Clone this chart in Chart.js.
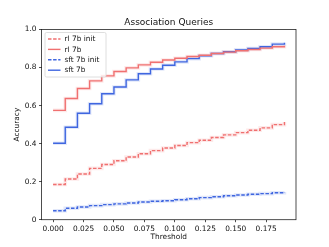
<!DOCTYPE html>
<html>
<head>
<meta charset="utf-8">
<script src="https://cdn.jsdelivr.net/npm/chart.js@4.4.4/dist/chart.umd.min.js"></script>
<style>
  html, body { margin: 0; padding: 0; background: #fff; }
  canvas { display: block; }
</style>
</head>
<body>
<canvas id="chart" width="329" height="247"></canvas>
<script>
// thresholds on the x axis
const thresholds = [0.00, 0.01, 0.02, 0.03, 0.04, 0.05, 0.06, 0.07, 0.08, 0.09,
                    0.10, 0.11, 0.12, 0.13, 0.14, 0.15, 0.16, 0.17, 0.18, 0.19];

const rlInit = [0.185, 0.214, 0.240, 0.270, 0.290, 0.310, 0.330, 0.347, 0.363, 0.377,
                0.390, 0.405, 0.418, 0.432, 0.446, 0.458, 0.470, 0.483, 0.500, 0.514];
const rl = [0.575, 0.637, 0.690, 0.730, 0.756, 0.779, 0.798, 0.814, 0.828, 0.840,
            0.849, 0.858, 0.865, 0.874, 0.881, 0.888, 0.895, 0.902, 0.909, 0.914];
const sftInit = [0.047, 0.060, 0.067, 0.074, 0.079, 0.083, 0.088, 0.093, 0.097, 0.100,
                 0.105, 0.110, 0.116, 0.121, 0.126, 0.130, 0.134, 0.137, 0.142, 0.146];
const sft = [0.402, 0.486, 0.560, 0.610, 0.662, 0.698, 0.735, 0.767, 0.792, 0.812,
             0.830, 0.847, 0.862, 0.874, 0.883, 0.893, 0.900, 0.909, 0.923, 0.930];

const xTicks = [0, 0.025, 0.05, 0.075, 0.1, 0.125, 0.15, 0.175];
const yTicks = [0, 0.2, 0.4, 0.6, 0.8, 1.0];

const RED = '#f07070';
const BLUE = '#3f66e0';
const FONT = '"DejaVu Sans", sans-serif';

const series = [
  { label: 'rl 7b init', values: rlInit, color: RED, dash: [3.5, 1.6] },
  { label: 'rl 7b', values: rl, color: RED, dash: [] },
  { label: 'sft 7b init', values: sftInit, color: BLUE, dash: [3.5, 1.6] },
  { label: 'sft 7b', values: sft, color: BLUE, dash: [] },
];

function toPoints(values) {
  return thresholds.map((t, i) => ({ x: t, y: values[i] }));
}

function fade(hex, a) {
  const n = parseInt(hex.slice(1), 16);
  return `rgba(${n >> 16},${(n >> 8) & 255},${n & 255},${a})`;
}

const datasets = [];
// soft band behind each line
for (const s of series) {
  datasets.push({
    label: '_band',
    data: toPoints(s.values),
    borderColor: fade(s.color, 0.15),
    borderWidth: 3.6,
    pointRadius: 0,
    stepped: true,
    order: 10,
  });
}
for (const s of series) {
  datasets.push({
    label: s.label,
    data: toPoints(s.values),
    borderColor: s.color,
    borderWidth: 1.4,
    borderDash: s.dash,
    pointRadius: 0,
    stepped: true,
    order: 1,
  });
}

const decorations = {
  id: 'decorations',
  afterDraw(chart) {
    const { ctx, chartArea: a } = chart;
    ctx.save();
    // frame
    ctx.strokeStyle = '#222';
    ctx.lineWidth = 0.8;
    ctx.strokeRect(a.left, a.top, a.right - a.left, a.bottom - a.top);

    // titles
    ctx.fillStyle = '#111';
    ctx.textAlign = 'center';
    ctx.textBaseline = 'middle';
    ctx.font = `9px ${FONT}`;
    ctx.fillText('Association Queries', (a.left + a.right) / 2, 22.7);
    ctx.font = `7.4px ${FONT}`;
    ctx.fillText('Threshold', (a.left + a.right) / 2, 237.5);
    ctx.save();
    ctx.translate(17.5, (a.top + a.bottom) / 2);
    ctx.rotate(-Math.PI / 2);
    ctx.fillText('Accuracy', 0, 0);
    ctx.restore();

    // legend box
    const bx = a.left + 3.5, by = a.top + 3, bw = 61, bh = 44.5;
    ctx.fillStyle = 'rgba(255,255,255,0.8)';
    ctx.strokeStyle = '#d6d6d6';
    ctx.lineWidth = 0.8;
    ctx.beginPath();
    ctx.roundRect(bx, by, bw, bh, 1.5);
    ctx.fill();
    ctx.stroke();
    ctx.textAlign = 'left';
    ctx.font = `7.4px ${FONT}`;
    series.forEach((s, i) => {
      const y = by + 6.5 + i * 10.4;
      ctx.strokeStyle = s.color;
      ctx.lineWidth = 1.4;
      ctx.setLineDash(s.dash);
      ctx.beginPath();
      ctx.moveTo(bx + 3, y);
      ctx.lineTo(bx + 15.5, y);
      ctx.stroke();
      ctx.setLineDash([]);
      ctx.fillStyle = '#111';
      ctx.fillText(s.label, bx + 19.5, y + 0.3);
    });
    ctx.restore();
  }
};

new Chart(document.getElementById('chart'), {
  type: 'line',
  data: { datasets },
  options: {
    responsive: false,
    animation: false,
    events: [],
    layout: { padding: { top: 29.5, right: 33, left: 0, bottom: 0 } },
    plugins: {
      legend: { display: false },
      title: { display: false },
      tooltip: { enabled: false },
    },
    scales: {
      x: {
        type: 'linear',
        min: -0.0095,
        max: 0.1995,
        afterFit(scale) { scale.height = 27.3; },
        afterBuildTicks(scale) { scale.ticks = xTicks.map(v => ({ value: v })); },
        grid: { drawOnChartArea: false, drawTicks: true, tickLength: 2.5, color: '#222', tickWidth: 0.8 },
        border: { display: false },
        ticks: {
          color: '#111',
          font: { family: FONT, size: 7.4 },
          padding: 2.0,
          maxRotation: 0,
          callback: v => v.toFixed(3),
        },
      },
      y: {
        min: 0,
        max: 1.0,
        afterFit(scale) { scale.width = 41.5; },
        afterBuildTicks(scale) { scale.ticks = yTicks.map(v => ({ value: v })); },
        grid: { drawOnChartArea: false, drawTicks: true, tickLength: 2.5, color: '#222', tickWidth: 0.8 },
        border: { display: false },
        ticks: {
          color: '#111',
          font: { family: FONT, size: 7.4 },
          padding: 2.5,
          callback: v => (v === 0 ? '0' : v.toFixed(1)),
        },
      },
    },
  },
  plugins: [decorations],
});
</script>
</body>
</html>
